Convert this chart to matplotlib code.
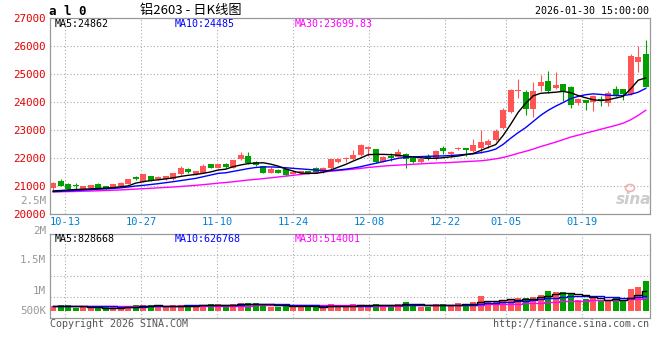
import matplotlib
matplotlib.use("Agg")
import matplotlib.pyplot as plt
from matplotlib.patches import Ellipse

plt.rcParams["font.family"] = ["DejaVu Sans Mono", "Noto Sans CJK SC"]

# 日期刻度 (与 K 线序号对应)
tick_idx = [2, 12, 22, 32, 42, 52, 60, 70]
tick_labels = ["10-13", "10-27", "11-10", "11-24", "12-08", "12-22", "01-05", "01-19"]

opens = [20904, 21165, 21070, 21010, 20844, 20927, 21070, 20987, 20951, 20987,
         21070, 21320, 21142, 21344, 21225, 21225, 21225, 21404, 21606, 21404,
         21463, 21760, 21640, 21760, 21640, 21939, 22057, 21856, 21700, 21463,
         21558, 21582, 21415, 21439, 21522, 21642, 21487, 21618, 21844, 21939,
         21939, 22082, 22296, 22296, 21850, 22058, 22035, 22118, 22000, 21844,
         22058, 21939, 22356, 22118, 22300, 22332, 22237, 22332, 22440, 22630,
         23070, 23630, 24380, 24344, 23760, 24558, 24761, 24499, 24653, 24522,
         23963, 24058, 23987, 24118, 23963, 24475, 24463, 24284, 25427, 25725]
closes = [21106, 20987, 20868, 20990, 20987, 21011, 20927, 20904, 21046, 21106,
          21225, 21225, 21404, 21165, 21320, 21344, 21440, 21640, 21487, 21522,
          21700, 21640, 21760, 21677, 21903, 22094, 21796, 21737, 21463, 21606,
          21463, 21368, 21487, 21522, 21439, 21487, 21642, 21939, 21963, 22000,
          22082, 22463, 22380, 21844, 22030, 22000, 22201, 21939, 21844, 21939,
          21939, 22237, 22237, 22213, 22356, 22272, 22440, 22570, 22594, 22951,
          23701, 24439, 24439, 23760, 24403, 24713, 24380, 24618, 24380, 23903,
          24118, 23963, 24201, 24022, 24320, 24237, 24296, 25665, 25630, 24534]
highs = [21120, 21225, 21090, 21106, 21000, 21030, 21106, 21000, 21060, 21120,
         21250, 21345, 21420, 21360, 21340, 21360, 21460, 21700, 21630, 21540,
         21760, 21780, 21780, 21820, 21920, 22201, 22201, 21880, 21720, 21665,
         21580, 21600, 21500, 21540, 21540, 21680, 21660, 21950, 21990, 22010,
         22273, 22480, 22415, 22310, 22050, 22177, 22296, 22177, 22020, 21960,
         22118, 22273, 22415, 22230, 22380, 22340, 22660, 23010, 22654, 23035,
         23785, 24463, 24820, 24415, 24701, 24951, 25118, 25058, 24653, 24558,
         24130, 24070, 24260, 24201, 24380, 24558, 24470, 25725, 26010, 26225]
lows = [20808, 20970, 20797, 20868, 20830, 20910, 20910, 20890, 20940, 20975,
        21060, 21200, 21130, 21150, 21210, 21210, 21210, 21390, 21470, 21390,
        21450, 21620, 21620, 21640, 21620, 21920, 21780, 21720, 21440, 21440,
        21440, 21350, 21400, 21420, 21420, 21470, 21470, 21600, 21820, 21844,
        21920, 22060, 22058, 21820, 21830, 21880, 22020, 21640, 21820, 21820,
        21920, 21920, 22118, 22035, 22280, 22058, 22220, 22177, 22356, 22610,
        23035, 23606, 24141, 23523, 23463, 24380, 24320, 24480, 24022, 23785,
        23903, 23725, 23665, 23844, 23844, 24201, 24082, 24260, 25058, 24534]

ma5 = [20810, 20825, 20845, 20860, 20870, 20885, 20895, 20910, 20930, 20960,
       20990, 21090, 21140, 21180, 21210, 21240, 21280, 21330, 21370, 21400,
       21440, 21490, 21560, 21590, 21680, 21740, 21790, 21810, 21820, 21770,
       21700, 21600, 21520, 21450, 21440, 21440, 21480, 21560, 21660, 21760,
       21880, 21990, 22110, 22120, 22120, 22110, 22090, 22050, 22030, 22000,
       21980, 21980, 22000, 22030, 22060, 22110, 22150, 22260, 22370, 22470,
       22800, 23200, 23630, 23950, 24220, 24310, 24330, 24350, 24380, 24330,
       24230, 24150, 24080, 24050, 24080, 24140, 24200, 24470, 24780, 24862]
ma10 = [20785, 20795, 20810, 20825, 20840, 20855, 20870, 20885, 20900, 20920,
        20950, 20985, 21010, 21040, 21070, 21105, 21140, 21180, 21220, 21260,
        21320, 21380, 21440, 21460, 21510, 21560, 21610, 21650, 21670, 21670,
        21660, 21640, 21620, 21600, 21580, 21560, 21540, 21540, 21560, 21590,
        21630, 21680, 21740, 21800, 21860, 21920, 21980, 22010, 22030, 22040,
        22050, 22060, 22065, 22080, 22100, 22120, 22140, 22180, 22230, 22310,
        22480, 22700, 22900, 23080, 23300, 23520, 23700, 23850, 23980, 24120,
        24200, 24260, 24290, 24270, 24240, 24230, 24230, 24270, 24350, 24485]
ma30 = [20775, 20780, 20785, 20790, 20800, 20805, 20815, 20825, 20835, 20845,
        20860, 20875, 20890, 20905, 20920, 20935, 20950, 20970, 20990, 21010,
        21035, 21060, 21090, 21110, 21140, 21170, 21200, 21225, 21250, 21280,
        21310, 21340, 21370, 21400, 21430, 21460, 21490, 21515, 21540, 21565,
        21590, 21620, 21650, 21675, 21700, 21720, 21735, 21750, 21765, 21780,
        21795, 21810, 21820, 21830, 21845, 21860, 21875, 21890, 21920, 21960,
        22010, 22080, 22160, 22230, 22310, 22400, 22480, 22560, 22650, 22740,
        22810, 22880, 22950, 23020, 23090, 23160, 23240, 23360, 23520, 23700]

# 成交量 (千手)
volume = [196, 252, 252, 112, 140, 98, 140, 140, 140, 140,
          196, 252, 252, 238, 168, 168, 238, 238, 238, 168,
          238, 280, 280, 238, 266, 322, 322, 308, 196, 168,
          168, 280, 168, 168, 168, 168, 168, 280, 196, 168,
          280, 238, 238, 280, 168, 224, 280, 364, 280, 168,
          168, 280, 280, 238, 336, 280, 364, 630, 420, 420,
          420, 490, 532, 532, 588, 658, 840, 798, 784, 700,
          462, 490, 518, 448, 420, 518, 448, 910, 1008, 1246]
vol_ma5 = [196, 196, 196, 196, 190, 171, 148, 132, 132, 132,
           151, 174, 196, 216, 221, 216, 213, 210, 210, 210,
           224, 232, 241, 241, 260, 277, 286, 291, 283, 263,
           232, 224, 196, 190, 190, 190, 168, 190, 196, 196,
           218, 232, 224, 241, 241, 230, 238, 263, 263, 263,
           252, 252, 235, 227, 260, 283, 300, 370, 406, 423,
           451, 476, 456, 479, 512, 560, 630, 689, 734, 756,
           717, 647, 591, 524, 468, 479, 470, 549, 661, 829]
vol_ma10 = [182, 182, 182, 182, 182, 182, 182, 182, 182, 175,
            171, 169, 169, 182, 185, 192, 202, 211, 221, 224,
            228, 231, 234, 234, 244, 259, 267, 274, 270, 272,
            265, 265, 253, 246, 237, 221, 206, 203, 206, 193,
            204, 211, 218, 230, 230, 235, 235, 244, 244, 246,
            235, 239, 244, 239, 251, 251, 259, 286, 311, 336,
            361, 382, 402, 427, 449, 479, 526, 543, 580, 608,
            612, 612, 610, 602, 585, 571, 532, 543, 566, 627]
vol_ma30 = [182, 182, 185, 185, 186, 186, 186, 188, 188, 188,
            189, 190, 192, 193, 195, 196, 197, 199, 200, 202,
            203, 206, 209, 210, 213, 216, 218, 221, 223, 223,
            224, 224, 223, 221, 221, 223, 224, 224, 223, 221,
            221, 220, 218, 218, 218, 217, 218, 221, 224, 223,
            223, 227, 230, 231, 235, 238, 242, 255, 262, 269,
            277, 286, 297, 308, 319, 336, 354, 371, 388, 405,
            413, 421, 430, 438, 444, 452, 458, 476, 494, 514]

RED = "#ff5555"
GREEN = "#00a000"
GRID = "#aaaaaa"
FRAME = "#999999"

W, H = 660, 360


def fx(px):
    return px / W


def fy(py):
    return 1 - py / H


fig = plt.figure(figsize=(6.6, 3.6), dpi=100)
fig.patch.set_facecolor("white")

ax = fig.add_axes([fx(50), fy(213.5), 599.5 / W, (213.5 - 18.3) / H])
axv = fig.add_axes([fx(50), fy(317.7), 599.5 / W, (317.7 - 234.3) / H])

n = len(closes)
xs = list(range(n))
colors = [RED if c >= o else GREEN for o, c in zip(opens, closes)]

# 新浪的日期网格比 K 线间距略宽
grid_x = [i * 1.0125 - 0.415 for i in tick_idx]

for a in (ax, axv):
    a.set_xlim(-0.43, 79.51)
    a.set_xticks(grid_x)
    a.set_axisbelow(True)
    a.grid(True, color=GRID, linestyle=(0, (1, 2)), linewidth=0.8)
    a.tick_params(length=0)
    for s in a.spines.values():
        s.set_color(FRAME)
        s.set_linewidth(0.9)

# K 线
ax.vlines(xs, lows, highs, colors=colors, linewidth=0.8, zorder=2)
bottoms = [min(o, c) for o, c in zip(opens, closes)]
heights = [max(abs(c - o), 25) for o, c in zip(opens, closes)]
ax.bar(xs, heights, bottom=bottoms, width=0.77, color=colors, linewidth=0, zorder=2)

ax.plot(xs, ma30, color="#ff00ff", linewidth=1, zorder=3)
ax.plot(xs, ma10, color="#0000ff", linewidth=1, zorder=3)
ax.plot(xs, ma5, color="black", linewidth=1, zorder=3)

ax.set_ylim(20000, 27000)
ax.set_yticks(range(20000, 27001, 1000))
ax.set_yticklabels([str(v) for v in range(20000, 27001, 1000)], color="#e00000", fontsize=7.8)
ax.set_xticklabels(tick_labels, color="#0080d0", fontsize=7.5)
ax.tick_params(axis="y", pad=2.9)
ax.tick_params(axis="x", pad=2.2)

# 成交量
axv.bar(xs, volume, width=0.77, color=colors, linewidth=0, zorder=2)
axv.plot(xs, vol_ma30, color="#ff00ff", linewidth=1, drawstyle="steps-mid", zorder=3)
axv.plot(xs, vol_ma10, color="#0000ff", linewidth=1, drawstyle="steps-mid", zorder=3)
axv.plot(xs, vol_ma5, color="black", linewidth=1, drawstyle="steps-mid", zorder=3)
vlo, vhi = -294, 3209
axv.set_ylim(vlo, vhi)
axv.set_yticks([vlo + f * (vhi - vlo) for f in (0.25, 0.5, 0.75)])
axv.set_yticklabels([])
axv.set_xticklabels([])

# 文字
mono = dict(fontsize=7.2, va="center")
fig.text(fx(49), fy(11.5), "a l 0", fontsize=9, fontweight="bold", va="center")
fig.text(fx(140), fy(10.5), "铝2603 - 日K线图", fontsize=9.5, va="center",
         family=["Noto Sans CJK SC", "DejaVu Sans"])
fig.text(fx(649), fy(11), "2026-01-30 15:00:00", ha="right", **mono)

fig.text(fx(55), fy(24), "MA5:24862", color="black", **mono)
fig.text(fx(175), fy(24), "MA10:24485", color="#0000ff", **mono)
fig.text(fx(295), fy(24), "MA30:23699.83", color="#ff00ff", **mono)

fig.text(fx(55), fy(239), "MA5:828668", color="black", **mono)
fig.text(fx(175), fy(239), "MA10:626768", color="#0000ff", **mono)
fig.text(fx(295), fy(239), "MA30:514001", color="#ff00ff", **mono)

for lab, py in [("2.5M", 201), ("2M", 231), ("1.5M", 260), ("1M", 290.7), ("500K", 311)]:
    fig.text(fx(46), fy(py), lab, ha="right", color="#999999", fontsize=7.8, va="center")

fig.text(fx(50), fy(324), "Copyright 2026 SINA.COM", color="#555555", **mono)
fig.text(fx(649), fy(324), "http://finance.sina.com.cn", ha="right", color="#555555", **mono)

# sina 水印
fig.text(fx(634), fy(200), "sina", ha="center", va="center", fontsize=11,
         style="italic", fontweight="bold", color="#cccccc", family="DejaVu Sans")
fig.add_artist(Ellipse((fx(630), fy(188)), 9 / W, 7 / H, transform=fig.transFigure,
                       fill=False, edgecolor="#f0b0b0", linewidth=1.2))

fig.savefig("out.png", dpi=100)
